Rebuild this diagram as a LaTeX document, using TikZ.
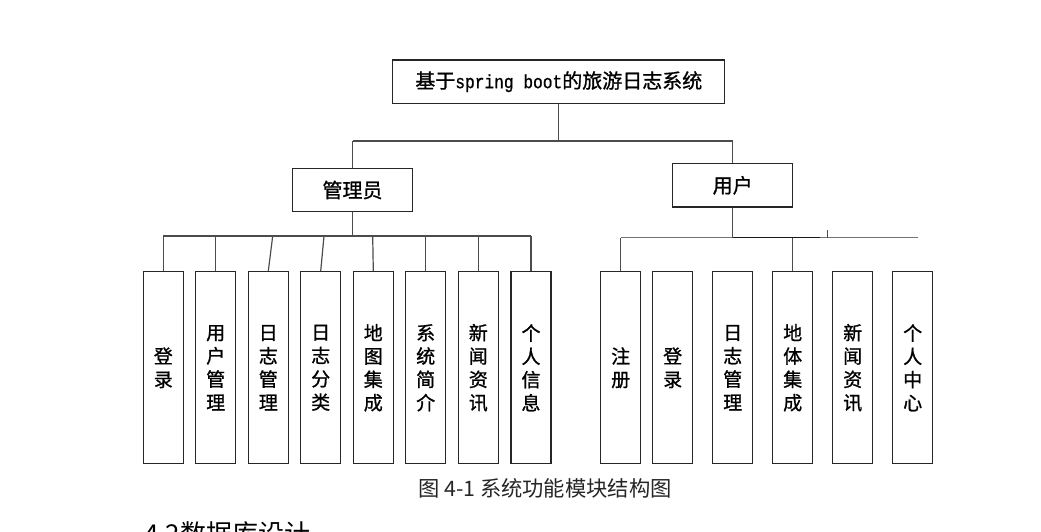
\documentclass[tikz,border=0pt]{standalone}
\usepackage{fontspec}
\usepackage{graphicx}
\newfontfamily\cjk{Noto Sans CJK SC}
\newfontfamily\cjkb[FakeBold=1]{Noto Sans CJK SC}
\newfontfamily\monob[FakeBold=1]{Liberation Mono}
\begin{document}
\begin{tikzpicture}[x=1pt,y=-1pt,
  box/.style={draw=black!85, line width=1.3pt, fill=white, inner sep=0pt, align=center,
    font=\cjkb\fontsize{19}{23.3}\selectfont},
  midbox/.style={box, minimum width=120pt, minimum height=43.5pt, font=\cjkb\fontsize{20}{24}\selectfont},
  leaf/.style={box, minimum width=40pt, minimum height=192pt},
  conn/.style={draw=black!70, line width=1.2pt},
  darkconn/.style={draw=black!90, line width=1.5pt}]
\clip (0,0) rectangle (1041,531);
\fill[white] (0,0) rectangle (1041,531);

% top
\node[box, minimum width=332pt, minimum height=43.5pt] (top) at (558.8,81.7)
  {\fontsize{20}{24}\selectfont 基于{\monob\fontsize{16.2}{24}\selectfont\scalebox{1}[1.18]{spring boot}}的旅游日志系统};
\node[midbox] (adm) at (352.5,190) {管理员};
\node[midbox] (usr) at (732.7,185.3) {用户};

\coordinate (tbus) at (0,141);
\draw[conn] (top.south) -- (top.south |- tbus);
\draw[conn] (adm.north |- tbus) -- (usr.north |- tbus);
\draw[conn] (adm.north |- tbus) -- (adm.north);
\draw[conn] (usr.north |- tbus) -- (usr.north);

% admin leaves
\node[leaf] (l1) at (163.3,367.8) {登\\录};
\node[leaf] (l2) at (215.7,367.8) {用\\户\\管\\理};
\node[leaf] (l3) at (268.3,367.8) {日\\志\\管\\理};
\node[leaf] (l4) at (320.7,367.8) {日\\志\\分\\类};
\node[leaf] (l5) at (373.3,367.8) {地\\图\\集\\成};
\node[leaf] (l6) at (425.7,367.8) {系\\统\\简\\介};
\node[leaf] (l7) at (478.3,367.8) {新\\闻\\资\\讯};
\node[leaf] (l8) at (531,367.8) {个\\人\\信\\息};

\coordinate (lbus) at (0,236);
\draw[conn] (adm.south) -- (adm.south |- lbus);
\draw[conn] (l1.north |- lbus) -- (l8.north |- lbus);
\foreach \n in {l1,l2,l6,l7,l8} \draw[conn] (\n.north) -- (\n.north |- lbus);
\draw[conn] (l3.north) -- ([xshift=4.4pt]l3.north |- lbus);
\draw[conn] (l4.north) -- ([xshift=3.3pt]l4.north |- lbus);
\draw[conn] (l5.north) -- ([xshift=-0.6pt]l5.north |- lbus);

% user leaves
\node[leaf] (r1) at (620.7,367.8) {注\\册};
\node[leaf] (r2) at (672.7,367.8) {登\\录};
\node[leaf] (r3) at (732.7,367.8) {日\\志\\管\\理};
\node[leaf] (r4) at (792.7,367.8) {地\\体\\集\\成};
\node[leaf] (r5) at (852.7,367.8) {新\\闻\\资\\讯};
\node[leaf] (r6) at (912.7,367.8) {个\\人\\中\\心};

\coordinate (rbus) at (0,237.7);
\coordinate (rend) at (917.7,237.7);
\coordinate (rdark) at (820,237.7);
\coordinate (tick) at (827.7,237.7);
\draw[conn, draw=black!55] (r1.north |- rbus) -- (rend);
\draw[darkconn] (usr.south |- rbus) -- (rdark);
\draw[conn] (usr.south) -- (usr.south |- rbus);
\draw[conn] (r1.north) -- (r1.north |- rbus);
\draw[conn] (r4.north) -- (r4.north |- rbus);
\draw[conn, line width=1pt] (tick) -- ++(0,-7.5);

% caption and heading
\node[anchor=base west, inner sep=0pt, text=black!85, font=\cjk\fontsize{21.3}{24}\selectfont] (cap) at (418,496)
  {图 4-1 系统功能模块结构图};
\node[anchor=base west, inner sep=0pt, font=\cjk\fontsize{26}{30}\selectfont] (head) at (144,543)
  {4.2数据库设计};
\end{tikzpicture}
\end{document}
